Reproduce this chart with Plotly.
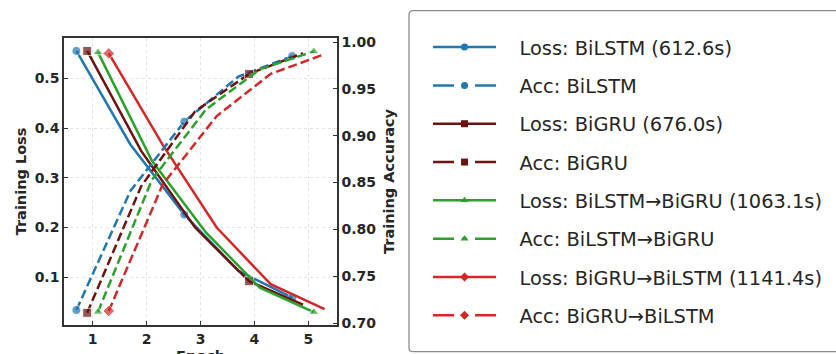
import plotly.graph_objects as go

epochs = [1, 2, 3, 4, 5]
models = ["BiLSTM", "BiGRU", "BiLSTM→BiGRU", "BiGRU→BiLSTM"]
train_times = [612.6, 676.0, 1063.1, 1141.4]

loss_bilstm = [0.555, 0.367, 0.226, 0.113, 0.059]
loss_bigru = [0.555, 0.354, 0.200, 0.092, 0.045]
loss_lstm_gru = [0.552, 0.334, 0.190, 0.079, 0.030]
loss_gru_lstm = [0.550, 0.366, 0.200, 0.086, 0.036]

acc_bilstm = [0.714, 0.841, 0.915, 0.963, 0.985]
acc_bigru = [0.711, 0.846, 0.926, 0.966, 0.988]
acc_lstm_gru = [0.712, 0.853, 0.928, 0.971, 0.990]
acc_gru_lstm = [0.713, 0.848, 0.921, 0.966, 0.987]

losses = [loss_bilstm, loss_bigru, loss_lstm_gru, loss_gru_lstm]
accs = [acc_bilstm, acc_bigru, acc_lstm_gru, acc_gru_lstm]

# style
x_offsets = [-0.3, -0.1, 0.1, 0.3]
colors = ["#1f77b4", "#6e1212", "#2ca02c", "#d62728"]
symbols = ["circle", "square", "triangle-up", "diamond"]
mark_every = [2, 3, 4, 5]
FONT = "DejaVu Sans"
TXT = "#262626"
NB = "\u00a0\u00a0\u00a0"

fig = go.Figure()

for i, name in enumerate(models):
    xs = [e + x_offsets[i] for e in epochs]
    sizes = [9 if k % mark_every[i] == 0 else 0 for k in range(len(epochs))]
    fig.add_trace(go.Scatter(
        x=xs, y=losses[i], mode="lines+markers", showlegend=False,
        line=dict(color=colors[i], width=2.5),
        marker=dict(symbol=symbols[i], size=sizes, color=colors[i]),
        xaxis="x", yaxis="y"))
for i, name in enumerate(models):
    xs = [e + x_offsets[i] for e in epochs]
    sizes = [9 if k % mark_every[i] == 0 else 0 for k in range(len(epochs))]
    fig.add_trace(go.Scatter(
        x=xs, y=accs[i], mode="lines+markers", showlegend=False,
        line=dict(color=colors[i], width=2.5, dash="9px,4px"),
        marker=dict(symbol=symbols[i], size=sizes, color=colors[i]),
        xaxis="x", yaxis="y2"))

# legend entries
for i, name in enumerate(models):
    fig.add_trace(go.Scatter(
        x=[None], y=[None], mode="lines+markers",
        name=f"{NB}Loss: {name} ({train_times[i]:.1f}s)", legendgroup=f"l{i}",
        line=dict(color=colors[i], width=2.5),
        marker=dict(symbol=symbols[i], size=7, color=colors[i])))
    fig.add_trace(go.Scatter(
        x=[None], y=[None], mode="lines+markers",
        name=f"{NB}Acc: {name}", legendgroup=f"a{i}",
        line=dict(color=colors[i], width=2.5, dash="21px,8px,5px,8px,21px"),
        marker=dict(symbol=symbols[i], size=7, color=colors[i])))

axis_common = dict(showline=True, linecolor="#333333", linewidth=1.5,
                   ticks="inside", ticklen=4, tickwidth=1.2, tickcolor="#333333",
                   tickfont=dict(family=FONT, size=14, color=TXT, weight="bold"),
                   zeroline=False)
title_font = dict(family=FONT, size=14.5, color=TXT, weight="bold")

# legend frame (rounded rectangle, paper coords of plot area 64..337 x 38..325)
rx, ry = 0.0147, 0.0139
L, R, T, B = 1.2637, 2.9, 1.0951, -0.0930
frame = (f"M {L+rx} {T} L {R} {T} L {R} {B} L {L+rx} {B} "
         f"Q {L} {B} {L} {B+ry} L {L} {T-ry} Q {L} {T} {L+rx} {T} Z")

fig.update_layout(
    width=836, height=354,
    margin=dict(l=64, r=499, t=38, b=29, autoexpand=False),
    paper_bgcolor="white", plot_bgcolor="white",
    font=dict(family=FONT, color=TXT),
    xaxis=dict(range=[0.47, 5.53], tickvals=epochs, mirror=True,
               showgrid=True, gridcolor="#e3e3e3", griddash="dot", gridwidth=1,
               **axis_common),
    yaxis=dict(range=[0.004, 0.581], dtick=0.1, tick0=0.1, mirror=True,
               showgrid=True, gridcolor="#e3e3e3", griddash="dot", gridwidth=1,
               title=dict(text="Training Loss", standoff=5, font=title_font),
               **axis_common),
    yaxis2=dict(range=[0.698, 1.0043], dtick=0.05, tick0=0.7, tickformat=".2f",
                overlaying="y", side="right", showgrid=False,
                title=dict(text="Training Accuracy", standoff=8, font=title_font),
                **axis_common),
    legend=dict(x=0.512, y=0.921, xref="container", yref="container",
                xanchor="left", yanchor="top", maxheight=350,
                bgcolor="rgba(0,0,0,0)", borderwidth=0,
                itemwidth=63, tracegroupgap=10.1,
                font=dict(family=FONT, size=19.4, color=TXT)),
    annotations=[dict(text="Epoch", xref="paper", yref="paper", x=0.5, y=-0.072,
                      xanchor="center", yanchor="top", showarrow=False,
                      font=title_font)],
    shapes=[dict(type="path", xref="paper", yref="paper", path=frame,
                 line=dict(color="#8c8c8c", width=1.3), fillcolor="rgba(0,0,0,0)")],
)

fig.write_html("out.html", config={"displayModeBar": False},
               post_script="document.body.style.margin='0';document.body.style.overflow='hidden';")
